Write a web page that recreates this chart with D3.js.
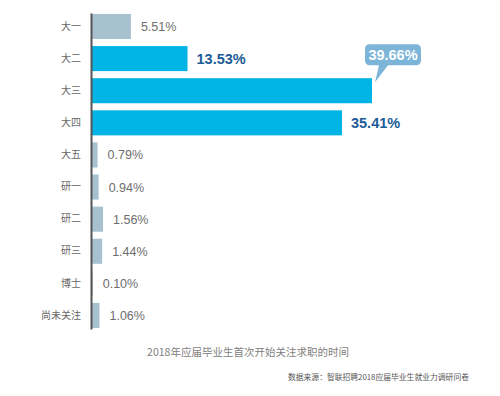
<!DOCTYPE html>
<html>
<head>
<meta charset="utf-8">
<script src="https://cdn.jsdelivr.net/npm/d3@7"></script>
<style>
  html, body { margin: 0; padding: 0; background: #fff; }
  svg { display: block; font-family: "Liberation Sans", Arial, "Noto Sans CJK SC", sans-serif; }
</style>
</head>
<body>
<svg id="chart" width="500" height="396"></svg>
<script>
// 2018 graduates - when they first started looking at jobs
const categories = ["大一", "大二", "大三", "大四", "大五", "研一", "研二", "研三", "博士", "尚未关注"];
const shares = [5.51, 13.53, 39.66, 35.41, 0.79, 0.94, 1.56, 1.44, 0.10, 1.06];
const highlighted = ["大二", "大三", "大四"];
const calloutCategory = "大三";
const chartTitle = "2018年应届毕业生首次开始关注求职的时间";
const sourceNote = "数据来源：智联招聘2018应届毕业生就业力调研问卷";

const data = categories.map(function (c, i) {
    return { cat: c, value: shares[i], hi: highlighted.indexOf(c) !== -1, callout: c === calloutCategory };
});

const svg = d3.select("#chart");
const axisX = 91;

const y = d3.scaleBand()
    .domain(categories)
    .range([13, 329])
    .paddingInner(0.22)
    .paddingOuter(0.03);

const x = d3.scaleLinear()
    .domain([0, 40])
    .range([92, 374.4]);

const fmt = function (v) { return v.toFixed(2) + "%"; };

svg.append("g").selectAll("rect")
    .data(data)
    .enter()
    .append("rect")
    .attr("x", x(0))
    .attr("y", function (d) { return y(d.cat); })
    .attr("width", function (d) { return Math.max(0, x(d.value) - x(0)); })
    .attr("height", y.bandwidth())
    .attr("fill", function (d) { return d.hi ? "#00b4e5" : "#a8c1d0"; });

// axis line with category labels
const yAxis = d3.axisLeft(y).tickSize(0).tickSizeOuter(0).tickPadding(10);
svg.append("g")
    .attr("transform", "translate(" + axisX + ",0)")
    .call(yAxis)
    .call(function (g) { g.select(".domain").attr("stroke", "#555").attr("stroke-width", 2); })
    .call(function (g) {
        g.selectAll("text")
            .attr("fill", "#666")
            .attr("font-size", "10px")
            .attr("font-family", "'Noto Sans CJK SC', sans-serif");
    });

// value labels
svg.append("g").selectAll("text")
    .data(data.filter(function (d) { return !d.callout; }))
    .enter()
    .append("text")
    .attr("x", function (d) { return x(d.value) + (d.hi ? 9 : 10); })
    .attr("y", function (d) { return y(d.cat) + y.bandwidth() / 2; })
    .attr("dy", "0.36em")
    .attr("fill", function (d) { return d.hi ? "#1c5c96" : "#6e6e6e"; })
    .attr("font-weight", function (d) { return d.hi ? "bold" : "normal"; })
    .attr("font-size", function (d) { return d.hi ? "14.5px" : "12.5px"; })
    .text(function (d) { return fmt(d.value); });

// speech-bubble callout for the peak
data.filter(function (d) { return d.callout; }).forEach(function (d) {
    const xe = x(d.value);
    const top = y(d.cat);
    const bx0 = xe - 7, bx1 = xe + 49, by0 = top - 34, by1 = top - 13, r = 5;
    const path = d3.path();
    path.moveTo(bx0 + r, by0);
    path.lineTo(bx1 - r, by0);
    path.quadraticCurveTo(bx1, by0, bx1, by0 + r);
    path.lineTo(bx1, by1 - r);
    path.quadraticCurveTo(bx1, by1, bx1 - r, by1);
    path.lineTo(xe + 16, by1);
    path.lineTo(xe + 3, top + 4);
    path.lineTo(xe + 7, by1);
    path.lineTo(bx0 + r, by1);
    path.quadraticCurveTo(bx0, by1, bx0, by1 - r);
    path.lineTo(bx0, by0 + r);
    path.quadraticCurveTo(bx0, by0, bx0 + r, by0);
    path.closePath();
    svg.append("path")
        .attr("d", path.toString())
        .attr("fill", "#7db5d9");
    svg.append("text")
        .attr("x", (bx0 + bx1) / 2)
        .attr("y", (by0 + by1) / 2)
        .attr("dy", "0.36em")
        .attr("text-anchor", "middle")
        .attr("fill", "#fff")
        .attr("font-weight", "bold")
        .attr("font-size", "14.5px")
        .text(fmt(d.value));
});

svg.append("text")
    .attr("x", 248)
    .attr("y", 352)
    .attr("dy", "0.36em")
    .attr("text-anchor", "middle")
    .attr("fill", "#808080")
    .attr("font-size", "10.5px")
    .attr("font-family", "'Noto Sans CJK SC', sans-serif")
    .text(chartTitle);

svg.append("text")
    .attr("x", 469)
    .attr("y", 377)
    .attr("dy", "0.36em")
    .attr("text-anchor", "end")
    .attr("fill", "#555")
    .attr("font-size", "7.8px")
    .attr("font-family", "'Noto Sans CJK SC', sans-serif")
    .text(sourceNote);
</script>
</body>
</html>
